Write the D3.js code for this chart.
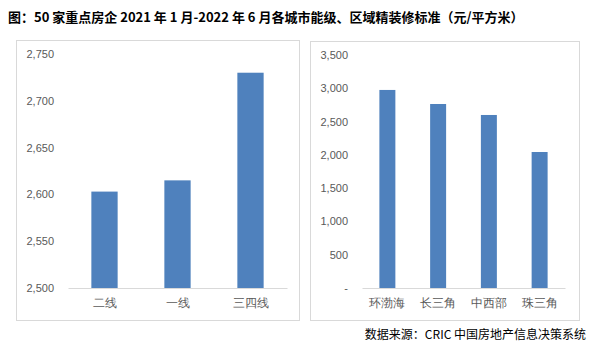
<!DOCTYPE html>
<html>
<head>
<meta charset="utf-8">
<script src="https://cdn.jsdelivr.net/npm/d3@7"></script>
<style>
  body { margin: 0; background: #fff; }
  svg { display: block; font-family: "Noto Sans CJK SC", "Noto Sans", sans-serif; }
</style>
</head>
<body>
<script>
// city tiers
const tierCats = ["二线", "一线", "三四线"];
const tierVals = [2603, 2615, 2730];
const tierTicks = [2500, 2550, 2600, 2650, 2700, 2750];

// regions
const regionCats = ["环渤海", "长三角", "中西部", "珠三角"];
const regionVals = [2975, 2764, 2599, 2043];
const regionTicks = [0, 500, 1000, 1500, 2000, 2500, 3000, 3500];

const W = 596, H = 359;
const barColor = "#4F81BD";
const gridGray = "#D9D9D9";
const labelGray = "#595959";

const svg = d3.select("body").append("svg")
    .attr("width", W)
    .attr("height", H);

svg.append("rect").attr("width", W).attr("height", H).attr("fill", "#fff");

// title
svg.append("text")
    .attr("x", 8)
    .attr("y", 22)
    .attr("font-size", 13)
    .attr("font-weight", "bold")
    .attr("fill", "#000")
    .text("图：50 家重点房企 2021 年 1 月-2022 年 6 月各城市能级、区域精装修标准（元/平方米）");

// source
svg.append("text")
    .attr("x", 586)
    .attr("y", 339)
    .attr("text-anchor", "end")
    .attr("font-size", 12)
    .attr("fill", "#000")
    .text("数据来源：CRIC 中国房地产信息决策系统");

const fmt = d3.format(",");

function panel(box, plot, cats, vals, ticks, pad, tickFmt) {
    svg.append("rect")
        .attr("x", box.x + 0.5).attr("y", box.y + 0.5)
        .attr("width", box.w).attr("height", box.h)
        .attr("fill", "#fff")
        .attr("stroke", gridGray);

    const x = d3.scaleBand()
        .domain(cats)
        .range([plot.x0, plot.x1])
        .paddingInner(pad)
        .paddingOuter(pad / 2);
    const y = d3.scaleLinear()
        .domain([ticks[0], ticks[ticks.length - 1]])
        .range([plot.y0, plot.y1]);

    const g = svg.append("g");

    g.selectAll(".bar")
        .data(cats)
      .enter().append("rect")
        .attr("class", "bar")
        .attr("x", d => x(d))
        .attr("width", x.bandwidth())
        .attr("y", (d, i) => y(vals[i]))
        .attr("height", (d, i) => y(ticks[0]) - y(vals[i]))
        .attr("fill", barColor);

    const yAxis = g.append("g")
        .attr("transform", "translate(" + plot.x0 + ",0)")
        .call(d3.axisLeft(y).tickValues(ticks).tickSize(0).tickPadding(plot.tp).tickFormat(tickFmt));
    yAxis.select(".domain").remove();
    yAxis.selectAll("text")
        .attr("fill", labelGray)
        .attr("font-size", 11)
        .attr("font-family", "'Liberation Sans', Arial, sans-serif");

    const xAxis = g.append("g")
        .attr("transform", "translate(0," + plot.y0 + ")")
        .call(d3.axisBottom(x).tickSize(0).tickPadding(10));
    xAxis.select(".domain").attr("stroke", gridGray);
    xAxis.selectAll("text")
        .attr("fill", labelGray)
        .attr("font-size", 12);
}

panel({ x: 16, y: 40, w: 283, h: 280 },
      { x0: 68, x1: 287, y0: 288, y1: 54, tp: 14 },
      tierCats, tierVals, tierTicks, 0.64, fmt);

panel({ x: 310, y: 41, w: 269, h: 279 },
      { x0: 362, x1: 565, y0: 288, y1: 55, tp: 14 },
      regionCats, regionVals, regionTicks, 0.685, d => d === 0 ? "-" : fmt(d));
</script>
</body>
</html>
